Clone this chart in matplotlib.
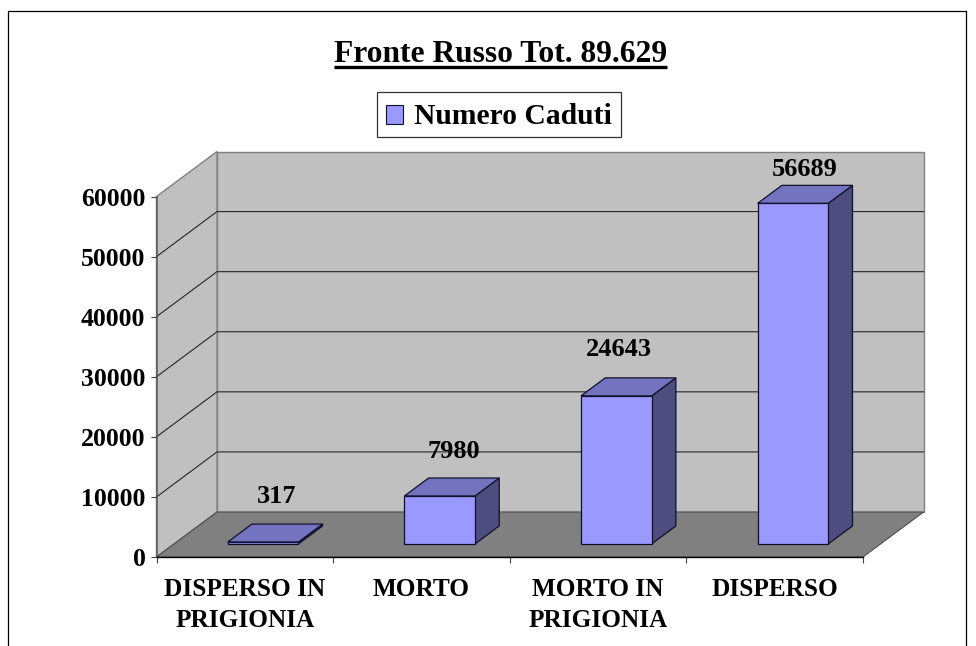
import matplotlib
matplotlib.use('Agg')
import matplotlib.pyplot as plt
from matplotlib.patches import Patch, Polygon
from matplotlib.lines import Line2D

#Data
categories = ['DISPERSO IN\nPRIGIONIA', 'MORTO', 'MORTO IN\nPRIGIONIA', 'DISPERSO']
values = [317, 7980, 24643, 56689]
yTicks = [0, 10000, 20000, 30000, 40000, 50000, 60000]
seriesName = 'Numero Caduti'
titleText = 'Fronte Russo Tot. 89.629'

#Pixel size of the figure
W = 976
H = 646

#Depth of the fake 3D box, as offset per unit of depth in data units
depthX = 60.5 / 176.5
depthY = 45 / (360.5 / 60000)

#Bar placement inside each category
barDepthStart = 0.29
barDepthEnd = 0.69
barLeft = 0.304
barWidth = 0.40

#Label offset from the bar back edge, pixels
labelShift = [-11, -10.5, -22, -12]
labelLift = [28, 27, 28, 16]

plt.rcParams['font.family'] = ['Liberation Serif', 'DejaVu Sans']
plt.rcParams['font.weight'] = 'bold'

fig = plt.figure(figsize=(W / 100, H / 100), dpi=100)
ax = fig.add_axes([156.5 / W, 1 - 557 / H, 706.5 / W, 360.5 / H])
ax.set_xlim(0, 4)
ax.set_ylim(0, 60000)
ax.patch.set_visible(False)


def proj(x, v, d):
    return (x + depthX * d, v + depthY * d)


def face(points, color, edge, lw=0.9, z=2):
    ax.add_patch(Polygon([proj(*p) for p in points], closed=True, facecolor=color,
                         edgecolor=edge, linewidth=lw, clip_on=False, zorder=z,
                         joinstyle='miter'))


#Walls and floor
yTop = yTicks[-1]
face([(0, 0, 1), (4, 0, 1), (4, yTop, 1), (0, yTop, 1)], '#c0c0c0', '#808080', 1.0, 1)
face([(0, 0, 0), (0, 0, 1), (0, yTop, 1), (0, yTop, 0)], '#c0c0c0', '#808080', 1.0, 1)

#Gridlines go along the side wall and the back wall
for t in yTicks[1:-1]:
    pts = [proj(0, t, 0), proj(0, t, 1), proj(4, t, 1)]
    ax.plot([p[0] for p in pts], [p[1] for p in pts], color='#262626', lw=0.8,
            clip_on=False, zorder=1.5)

face([(0, 0, 0), (4, 0, 0), (4, 0, 1), (0, 0, 1)], '#808080', '#4d4d4d', 0.8, 1.8)

#Bars
for i, v in enumerate(values):
    x0 = i + barLeft
    x1 = x0 + barWidth
    d0 = barDepthStart
    d1 = barDepthEnd
    face([(x1, 0, d0), (x1, 0, d1), (x1, v, d1), (x1, v, d0)], '#4d4d80', '#10102a', 0.9, 3)
    face([(x0, v, d0), (x1, v, d0), (x1, v, d1), (x0, v, d1)], '#7373bf', '#10102a', 0.9, 3)
    face([(x0, 0, d0), (x1, 0, d0), (x1, v, d0), (x0, v, d0)], '#9999ff', '#10102a', 0.9, 3.1)
    top = proj(x0 + barWidth / 2, v, d1)
    ax.annotate(str(v), xy=top, xytext=(labelShift[i] * 0.72, labelLift[i] * 0.72),
                textcoords='offset points', ha='center', va='center', fontsize=19,
                fontweight='bold', zorder=5, annotation_clip=False)

#Axes, ticks and labels
for s in ['top', 'right']:
    ax.spines[s].set_visible(False)
ax.spines['left'].set_color('#595959')
ax.spines['left'].set_linewidth(1.1)
ax.spines['bottom'].set_color('black')
ax.spines['bottom'].set_linewidth(1.0)
ax.spines['left'].set_zorder(4)
ax.spines['bottom'].set_zorder(4)

ax.set_yticks(yTicks)
ax.set_yticklabels([str(t) for t in yTicks], fontsize=18.5, fontweight='bold')
ax.tick_params(axis='y', length=4.5, width=0.8, color='#404040', pad=3.5)
ax.set_xticks(range(5))
ax.set_xticklabels([])
ax.tick_params(axis='x', which='major', length=4.5, width=0.8, color='#404040')
ax.set_xticks([i + 0.5 for i in range(4)], minor=True)
ax.set_xticklabels(categories, minor=True, fontsize=18.2, fontweight='bold', linespacing=1.48)
ax.tick_params(axis='x', which='minor', length=0, pad=15)

#Title with underline
titleObj = fig.text(500.5 / W, 1 - 55 / H, titleText, ha='center', va='center',
                    fontsize=22.7, fontweight='bold')
fig.canvas.draw()
box = titleObj.get_window_extent()
fig.add_artist(Line2D([box.x0 / W, box.x1 / W], [1 - 67 / H, 1 - 67 / H], color='black', lw=2.4,
                      solid_capstyle='butt'))

#Legend
handle = Patch(facecolor='#9999ff', edgecolor='#10102a', linewidth=0.8)
leg = fig.legend([handle], [seriesName], loc='center', bbox_to_anchor=(499 / W, 1 - 114.5 / H),
                 fontsize=21.3, fancybox=False, edgecolor='#333333', framealpha=1,
                 handlelength=0.59, handleheight=0.59, handletextpad=0.38,
                 borderpad=0.31, borderaxespad=0)
leg.get_frame().set_linewidth(0.9)
#Text and swatch sit a bit lower in the box than the legend puts them
leg.get_texts()[0].set_y(-2)
leg.legend_handles[0].set_y(leg.legend_handles[0].get_y() - 2)

#Outer border, runs off the bottom of the picture
borderX = [8 / W, 8 / W, 966 / W, 966 / W]
borderY = [0, 1 - 11 / H, 1 - 11 / H, 0]
fig.add_artist(Line2D(borderX, borderY, color='black', lw=0.9))

fig.savefig('out.png', dpi=100)
